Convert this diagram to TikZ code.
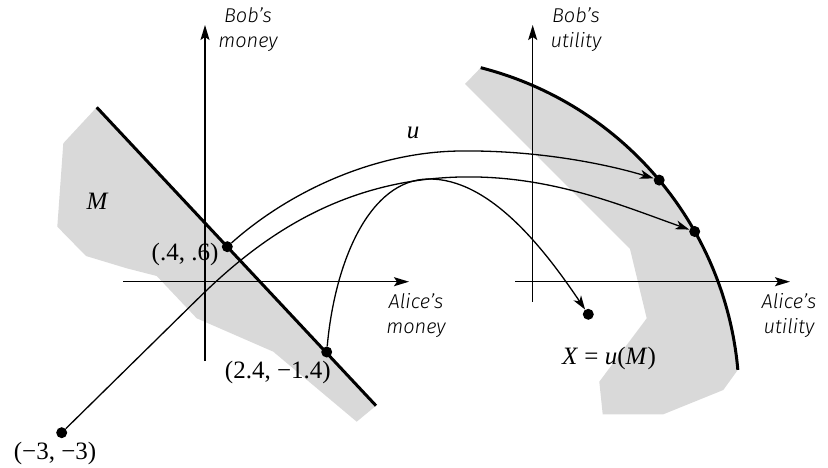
\documentclass[tikz,border=0pt]{standalone}
\usepackage{fontspec}
\setmainfont{Liberation Serif}
\IfFontExistsTF{Fira Sans Light Italic}{\newfontfamily\hand{Fira Sans Light Italic}}{\newfontfamily\hand{DejaVu Sans}[FakeSlant=0.2]}
\usetikzlibrary{arrows.meta}
\definecolor{regiongray}{RGB}{217,217,217}
\tikzset{
  axis/.style={line width=1.4pt,-{Stealth[length=15pt,width=9pt,inset=3pt]}},
  boundary/.style={line width=3pt},
  dot/.style={circle,fill=black,inner sep=0pt,minimum size=11pt},
  map/.style={line width=1.3pt,-{Stealth[length=14pt,width=9pt,inset=4pt]}},
  handlabel/.style={font=\hand\fontsize{20}{25}\selectfont,align=center,inner sep=0pt},
  serlabel/.style={font=\fontsize{25}{30}\selectfont,inner sep=0pt},
}
\begin{document}
\begin{tikzpicture}[x=1pt,y=1pt]
\useasboundingbox (0,0) rectangle (828,-468);
% shaded regions
\fill[regiongray] (96.7,-107.3) -- (63.3,-143.3) -- (57.3,-226.7) -- (86,-256) -- (126.7,-268.3) -- (156.7,-276) -- (196.7,-318.3) -- (273.3,-351.7) -- (356.7,-421.7) -- (376,-405.7) -- cycle;
\fill[regiongray] (465,-84) -- (480.7,-67.7) arc[start angle=75.7,end angle=5.1,radius=343.3] -- (723.3,-390) -- (663.3,-414.3) -- (602.7,-414.3) -- (599.3,-381.7) -- (646.7,-318.3) -- (630,-249) -- cycle;
% axes
\coordinate (lyb) at (205,-361);
\coordinate (lyt) at (205,-25);
\coordinate (lxl) at (123,-281.7);
\coordinate (lxr) at (409,-281.7);
\coordinate (ryb) at (532.7,-301.7);
\coordinate (ryt) at (532.7,-25);
\coordinate (rxl) at (515,-281.7);
\coordinate (rxr) at (790,-281.7);
\draw[axis] (lyb) -- (lyt);
\draw[axis] (lxl) -- (lxr);
\draw[axis] (ryb) -- (ryt);
\draw[axis] (rxl) -- (rxr);
% boundaries
\coordinate (ms) at (96.7,-107.3);
\coordinate (me) at (376,-405.7);
\coordinate (xs) at (480.7,-67.7);
\draw[boundary] (ms) -- (me);
\draw[boundary] (xs) arc[start angle=75.7,end angle=5.1,radius=343.3];
% dots
\node[dot] (p1) at (227.3,-246.7) {};
\node[dot] (p2) at (326.7,-352) {};
\node[dot] (p3) at (61.7,-432.7) {};
\node[dot] (q1) at (659.2,-180.1) {};
\node[dot] (q2) at (694.7,-231.5) {};
\node[dot] (q3) at (588.3,-314.3) {};
% maps
\coordinate (bend) at (200,-296.7);
\draw[map] (p1) .. controls (285,-195) and (370,-152) .. (460,-151) .. controls (540,-150) and (610,-165) .. (q1);
\draw[map] (p3) -- (bend) .. controls (260,-238) and (340,-180) .. (460,-177) .. controls (550,-175) and (620,-205) .. (q2);
\draw[map] (p2) .. controls (335,-260) and (370,-180) .. (428,-179) .. controls (490,-178) and (545,-250) .. (q3);
% labels
\node[handlabel] (bm) at (248,-29.5) {Bob’s\\money};
\node[handlabel] (bu) at (576,-29.5) {Bob’s\\utility};
\node[handlabel] (am) at (416,-315.5) {Alice’s\\money};
\node[handlabel] (au) at (789,-315.5) {Alice’s\\utility};
\node[serlabel] (lu) at (413,-133) {\textit{u}};
\node[serlabel] (lM) at (97.7,-201.7) {\textit{M}};
\node[serlabel] (lX) at (609,-358) {\textit{X} = \textit{u}(\textit{M})};
\node[serlabel] (l1) at (185,-254) {(.4, .6)};
\node[serlabel] (l2) at (277.8,-372.7) {(2.4, −1.4)};
\node[serlabel] (l3) at (55,-453.3) {(−3, −3)};
\end{tikzpicture}
\end{document}
